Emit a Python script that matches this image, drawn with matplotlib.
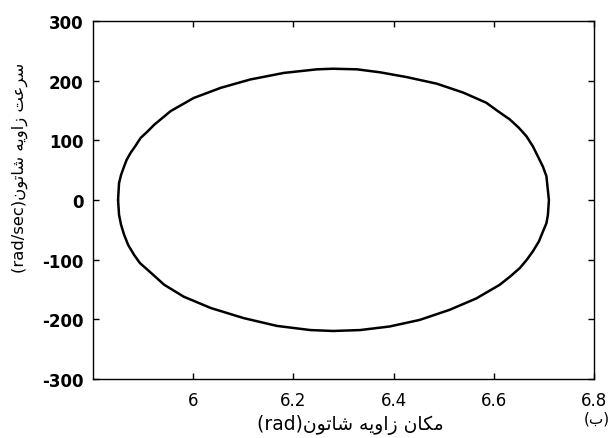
import matplotlib
matplotlib.use("Agg")
import matplotlib.pyplot as plt

# ---- data (crank angle position vs angular velocity) ----
theta_upper = [5.850, 5.852, 5.856, 5.862, 5.867, 5.875, 5.885, 5.895, 5.909, 5.922,
               5.955, 6.001, 6.055, 6.114, 6.181, 6.247, 6.279, 6.327, 6.373, 6.426,
               6.486, 6.539, 6.585, 6.608, 6.632, 6.650, 6.665, 6.678, 6.688, 6.698,
               6.705, 6.710]
omega_upper = [0.0, 28.5, 42.0, 56.0, 67.0, 79.0, 91.0, 104.0, 115.0, 126.0,
               149.0, 171.0, 188.0, 202.0, 213.0, 219.0, 220.0, 219.0, 214.0, 206.0,
               195.0, 180.0, 163.0, 149.0, 135.0, 121.0, 107.0, 90.0, 73.0, 56.0,
               40.0, 0.0]
theta_lower = [6.708, 6.705, 6.698, 6.690, 6.678, 6.666, 6.652, 6.633, 6.612, 6.565,
               6.512, 6.452, 6.392, 6.333, 6.279, 6.234, 6.167, 6.101, 6.035, 5.981,
               5.942, 5.909, 5.894, 5.882, 5.870, 5.862, 5.856, 5.852, 5.850]
omega_lower = [-25.0, -39.0, -53.0, -69.5, -86.0, -100.0, -114.0, -128.0, -142.0, -165.0,
               -184.0, -201.0, -212.0, -218.0, -219.5, -218.0, -211.0, -198.0, -181.0, -162.0,
               -142.0, -117.0, -106.0, -92.0, -75.0, -58.0, -41.5, -25.0, 0.0]

x_ticks = [6.0, 6.2, 6.4, 6.6, 6.8]
x_ticklabels = ["6", "6.2", "6.4", "6.6", "6.8"]
y_ticks = [-300, -200, -100, 0, 100, 200, 300]
y_ticklabels = ["-300", "-200", "-100", "0", "100", "200", "300"]

# Persian labels, pre-shaped (presentation forms) in visual left-to-right order
w_shatun = "\uFEE5\uFEEE\uFE97\uFE8E\uFEB7"      # شاتون
w_zavieh = "\uFEEA\uFBFE\uFEED\uFE8D\uFEAF"      # زاویه
w_makan = "\uFEE5\uFE8E\uFB91\uFEE3"             # مکان
w_sorat = "\uFE96\uFECB\uFEAE\uFEB3"             # سرعت
x_label = "(rad)" + w_shatun + " " + w_zavieh + " " + w_makan
y_label = "(rad/sec)" + w_shatun + " " + w_zavieh + " " + w_sorat
panel_label = "(\uFE8F)"                          # (ب)

theta = theta_upper + theta_lower
omega = omega_upper + omega_lower

fig = plt.figure(figsize=(6.14, 4.39), dpi=100)
ax = fig.add_axes([93 / 614, 1 - 380 / 439, (594 - 93) / 614, (380 - 22) / 439])

ax.plot(theta, omega, color="black", linewidth=1.8,
        solid_joinstyle="round", solid_capstyle="round")

ax.set_xlim(5.8, 6.8)
ax.set_ylim(-300, 300)
ax.set_xticks(x_ticks)
ax.set_xticklabels(x_ticklabels, fontsize=12, family="DejaVu Sans")
ax.set_yticks(y_ticks)
ax.set_yticklabels(y_ticklabels, fontsize=12, fontweight="bold", family="DejaVu Sans")
ax.tick_params(direction="in", length=4, width=1, top=True, right=True)
ax.tick_params(axis="x", pad=9)
ax.tick_params(axis="y", pad=7)
for s in ax.spines.values():
    s.set_linewidth(1.0)

fig.text(350 / 614, 1 - 425 / 439, x_label, ha="center", va="center",
         fontsize=13.5, family=["DejaVu Sans"])
fig.text(20 / 614, 1 - 168 / 439, y_label, ha="center", va="center", rotation=90,
         fontsize=11.8, family=["DejaVu Sans"])
fig.text(597 / 614, 1 - 419 / 439, panel_label, ha="center", va="center",
         fontsize=11, family=["DejaVu Sans"])

fig.savefig("out.png", dpi=100)
